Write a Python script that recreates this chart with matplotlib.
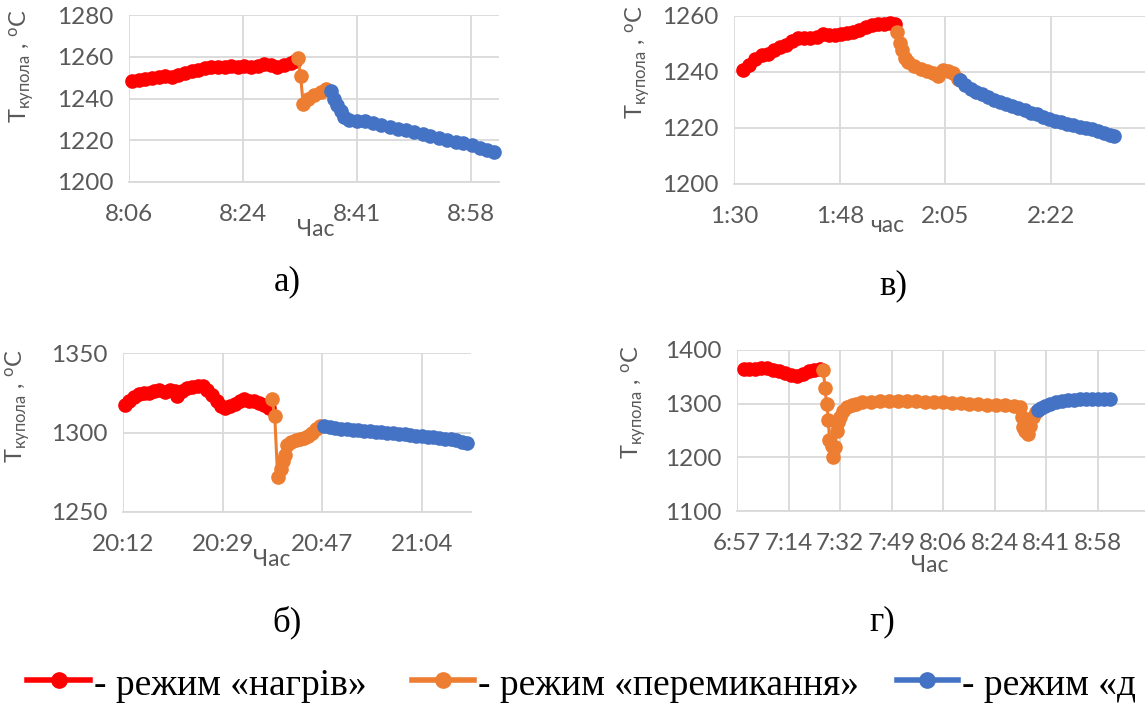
import matplotlib
matplotlib.use("Agg")
import matplotlib.pyplot as plt
from matplotlib.lines import Line2D

# ---------------- data (minutes from the first tick, °C) ----------------
# panel а)
a_red_t = [0.5, 1.5, 2.5, 3.5, 4.5, 5.5, 6.5, 7.5, 8.5, 9.5, 10.5, 11.5, 12.5, 13.5,
           14.5, 15.5, 16.5, 17.5, 18.5, 19.5, 20.5, 21.5, 22.5, 23.5, 24.5, 25.1]
a_red_v = [1248.3, 1248.8, 1249.5, 1250.0, 1250.3, 1250.6, 1250.4, 1251.2, 1252.3, 1253.0,
           1253.8, 1254.5, 1254.9, 1255.2, 1255.0, 1255.4, 1255.1, 1255.6, 1255.2, 1255.5,
           1256.4, 1255.9, 1255.0, 1256.2, 1257.0, 1257.8]
a_org_t = [25.6, 26.0, 26.4, 27.1, 28.1, 29.1, 29.9]
a_org_v = [1259.5, 1251.0, 1237.5, 1240.0, 1241.5, 1243.0, 1244.5]
a_blu_t = [30.6, 31.1, 31.6, 32.1, 32.6, 33.4, 34.5, 35.7, 37.0, 38.2, 39.5, 40.7, 42.0,
           43.2, 44.5, 45.7, 47.0, 48.2, 49.5, 50.7, 52.0, 53.2, 54.2, 55.3]
a_blu_v = [1243.5, 1240.0, 1237.0, 1234.0, 1231.0, 1229.5, 1229.3, 1229.0, 1228.2, 1227.5,
           1226.5, 1225.5, 1224.8, 1224.0, 1223.0, 1222.0, 1221.0, 1220.0, 1219.3, 1218.5,
           1217.5, 1216.5, 1215.5, 1214.5]
a_ticks = ["8:06", "8:24", "8:41", "8:58"]

# panel в)
v_red_t = [1.5, 2.5, 3.5, 4.5, 5.5, 6.5, 7.5, 8.5, 9.5, 10.5, 11.5, 12.5, 13.5, 14.5,
           15.5, 16.5, 17.5, 18.5, 19.5, 20.5, 21.5, 22.5, 23.5, 24.5, 25.5, 26.3]
v_red_v = [1240.8, 1242.5, 1244.5, 1246.0, 1246.5, 1248.0, 1248.8, 1249.5, 1251.0, 1252.0,
           1252.2, 1252.0, 1252.5, 1253.5, 1253.2, 1253.2, 1253.5, 1253.8, 1254.4, 1255.0,
           1256.0, 1256.7, 1257.0, 1257.2, 1257.5, 1257.0]
v_org_t = [26.7, 27.2, 27.5, 27.9, 28.5, 29.5, 30.5, 31.5, 32.5, 33.4, 34.2, 35.0, 35.8, 36.6]
v_org_v = [1254.4, 1250.5, 1248.0, 1245.0, 1243.5, 1242.0, 1241.2, 1240.3, 1239.5, 1238.5,
           1240.8, 1240.5, 1239.5, 1237.5]
v_blu_t = [36.9, 37.8, 38.7, 39.6, 40.5, 41.5, 42.5, 43.5, 44.5, 45.5, 46.5, 47.5, 48.5,
           49.5, 50.5, 51.5, 52.5, 53.5, 54.5, 55.5, 56.5, 57.5, 58.5, 59.5, 60.5, 61.5, 62.2]
v_blu_v = [1237.3, 1235.5, 1234.0, 1233.0, 1232.0, 1231.0, 1230.0, 1229.3, 1228.5, 1227.8,
           1227.0, 1226.3, 1225.5, 1225.0, 1224.0, 1223.2, 1222.5, 1222.0, 1221.5, 1221.0,
           1220.3, 1220.0, 1219.5, 1218.8, 1218.2, 1217.5, 1217.3]
v_ticks = ["1:30", "1:48", "2:05", "2:22"]

# panel б)
b_red_t = [0.4, 1.0, 1.85, 2.7, 3.6, 4.5, 5.4, 6.3, 7.2, 8.1, 9.0, 9.4, 10.3, 11.1, 12.0,
           13.0, 13.8, 14.6, 15.4, 16.3, 17.0, 17.7, 18.5, 19.4, 20.2, 21.0, 21.9, 22.7,
           23.6, 24.5, 25.3]
b_red_v = [1317.4, 1319.5, 1322.5, 1324.0, 1324.8, 1325.0, 1325.8, 1326.5, 1325.5, 1326.5,
           1325.8, 1323.0, 1326.0, 1328.0, 1328.5, 1329.5, 1329.0, 1327.0, 1323.5, 1320.0,
           1316.5, 1315.3, 1316.8, 1318.0, 1319.5, 1321.0, 1320.0, 1319.5, 1318.5, 1317.0,
           1315.5]
b_org_t = [25.8, 26.3, 26.8, 27.3, 27.7, 28.1, 28.5, 29.2, 29.9, 30.6, 31.3, 32.0, 32.7,
           33.4, 34.2]
b_org_v = [1321.3, 1310.5, 1272.1, 1277.0, 1282.0, 1286.0, 1292.0, 1294.0, 1295.5, 1296.0,
           1296.5, 1298.0, 1300.0, 1302.0, 1304.0]
b_blu_t = [34.8, 35.8, 36.8, 37.8, 38.8, 39.8, 40.8, 41.8, 42.8, 43.8, 44.8, 45.8, 46.8,
           47.8, 48.8, 49.8, 50.8, 51.8, 52.8, 53.8, 54.8, 55.8, 56.8, 57.8, 58.8, 59.6]
b_blu_v = [1303.8, 1303.2, 1302.7, 1302.3, 1302.0, 1301.6, 1301.5, 1301.0, 1300.8, 1300.4,
           1300.2, 1299.8, 1299.6, 1299.2, 1298.8, 1298.4, 1297.8, 1297.6, 1297.2, 1297.0,
           1296.6, 1296.2, 1295.6, 1295.0, 1294.2, 1293.3]
b_ticks = ["20:12", "20:29", "20:47", "21:04"]

# panel г)
g_red_t = [2.2, 4, 6, 8, 10, 12, 14, 16, 18, 20, 22, 24, 26, 28]
g_red_v = [1364.7, 1364.5, 1365.0, 1366.0, 1367.0, 1363.0, 1360.0, 1357.0, 1354.0, 1352.0,
           1356.0, 1360.0, 1363.0, 1365.0]
g_org_t = [29.0, 29.5, 30.1, 30.7, 31.0, 31.8, 32.3, 32.9, 33.4, 34.0, 34.6, 35.7, 37, 38.5,
           40, 42, 45, 48, 51, 54, 57, 60, 63, 66, 69, 72, 75, 78, 81, 84, 87, 90, 93, 94.8,
           95.5, 95.9, 96.7, 97.5, 98.3, 99.2, 100.3]
g_org_v = [1363.0, 1329.4, 1298.5, 1268.7, 1231.6, 1222.0, 1200.6, 1219.0, 1250.0, 1265.0,
           1275.0, 1287.0, 1294.0, 1298.0, 1300.0, 1302.5, 1303.5, 1304.5, 1305.0, 1304.6,
           1304.8, 1304.5, 1303.5, 1303.0, 1302.5, 1301.5, 1300.5, 1299.5, 1298.5, 1298.0,
           1297.5, 1296.8, 1295.5, 1294.7, 1275.0, 1256.3, 1250.0, 1244.0, 1258.0, 1275.0,
           1284.2]
g_blu_t = [100.9, 102, 103.5, 105, 107, 109, 111, 113, 115, 117, 119, 121, 123, 125]
g_blu_v = [1287.3, 1292.0, 1296.0, 1299.7, 1302.5, 1304.5, 1306.0, 1307.5, 1308.5, 1309.0,
           1309.2, 1309.3, 1309.3, 1309.0]
g_ticks = ["6:57", "7:14", "7:32", "7:49", "8:06", "8:24", "8:41", "8:58"]

legend_labels = ["- режим «нагрів»", "- режим «перемикання»", "- режим «д"]
panel_letters = ["а)", "в)", "б)", "г)"]
ylabel_text = r"T$_{\mathrm{купола}}$ , $^{\mathrm{o}}$C"

# ---------------- style ----------------
RED, ORANGE, BLUE = "#FF0000", "#ED7D31", "#4472C4"
GRID = "#D9D9D9"
TXT = "#595959"
SANS = ["Lato", "DejaVu Sans"]
SERIF = ["Liberation Serif", "DejaVu Serif"]
plt.rcParams["font.family"] = SANS
plt.rcParams["mathtext.fontset"] = "custom"
plt.rcParams["mathtext.rm"] = "Lato"
plt.rcParams["mathtext.it"] = "Lato:italic"
plt.rcParams["mathtext.bf"] = "Lato:bold"

W, H = 1145, 706
fig = plt.figure(figsize=(W / 100, H / 100), dpi=100)
fig.patch.set_facecolor("white")

STEP = 17.28  # minutes between major ticks (Excel 0.012 day)
TICK_FS = 17.5


def make_axes(l, t, r, b):
    return fig.add_axes([l / W, 1 - b / H, (r - l) / W, (b - t) / H])


def style(ax, ticks, xmax, ylim, ystep):
    ax.set_xlim(0, xmax)
    ax.set_ylim(*ylim)
    ax.set_xticks([k * STEP for k in range(len(ticks))])
    ax.set_xticklabels(ticks)
    ax.set_yticks(list(range(ylim[0], ylim[1] + 1, ystep)))
    ax.grid(True, color=GRID, lw=1.3)
    ax.set_axisbelow(True)
    for s in ("top", "right", "left"):
        ax.spines[s].set_visible(False)
    ax.spines["bottom"].set_color(GRID)
    ax.spines["bottom"].set_linewidth(1.3)
    ax.tick_params(length=0, labelsize=TICK_FS, colors=TXT)
    ax.tick_params(axis="x", pad=16)
    ax.tick_params(axis="y", pad=11)
    ax.set_facecolor("white")


def series(ax, t, v, c):
    ax.plot(t, v, color=c, lw=2.2, marker="o", ms=9.5, mec=c, mfc=c, clip_on=False, zorder=3)


# а)
ax = make_axes(129, 15, 499, 182)
style(ax, a_ticks, (499 - 129) / 114 * STEP, (1200, 1280), 20)
series(ax, a_red_t, a_red_v, RED)
series(ax, a_org_t, a_org_v, ORANGE)
series(ax, a_blu_t, a_blu_v, BLUE)

# в)
ax = make_axes(734, 16, 1150, 184)
style(ax, v_ticks, (1150 - 734) / 105.7 * STEP, (1200, 1260), 20)
series(ax, v_red_t, v_red_v, RED)
series(ax, v_org_t, v_org_v, ORANGE)
series(ax, v_blu_t, v_blu_v, BLUE)

# б)
ax = make_axes(123, 353, 471, 512)
style(ax, b_ticks, (471 - 123) / 99.7 * STEP, (1250, 1350), 50)
series(ax, b_red_t, b_red_v, RED)
series(ax, b_org_t, b_org_v, ORANGE)
series(ax, b_blu_t, b_blu_v, BLUE)

# г)
ax = make_axes(737, 350, 1146, 511)
style(ax, g_ticks, (1146 - 737) / 51.5 * STEP, (1100, 1400), 100)
series(ax, g_red_t, g_red_v, RED)
series(ax, g_org_t, g_org_v, ORANGE)
series(ax, g_blu_t, g_blu_v, BLUE)


def ftext(x, y, s, **kw):
    fig.text(x / W, 1 - y / H, s, **kw)


# y labels
for (x, y) in [(22, 66), (638, 62), (18, 406), (634, 402)]:
    ftext(x, y, ylabel_text, rotation=90, ha="center", va="center", fontsize=17, color=TXT)

# x labels "Час"
for (x, y, s) in [(316, 230, "Час"), (887, 225, "час"), (272, 559, "Час"), (930, 566, "Час")]:
    ftext(x, y, s, ha="center", va="center", fontsize=16.5, color=TXT)

# panel letters
for (x, y), s in zip([(287, 282), (893, 286), (287, 622), (882, 622)], panel_letters):
    ftext(x, y, s, ha="center", va="center", fontsize=25, color="black", family=SERIF)

# legend
leg = [(27, 90, RED, legend_labels[0]), (412, 474, ORANGE, legend_labels[1]),
       (897, 958, BLUE, legend_labels[2])]
for x0, x1, c, s in leg:
    yl = 1 - 680 / H
    fig.add_artist(Line2D([x0 / W, x1 / W], [yl, yl], transform=fig.transFigure,
                          color=c, lw=4))
    fig.add_artist(Line2D([(x0 + x1) / 2 / W], [yl], transform=fig.transFigure,
                          color=c, marker="o", ms=11, mec=c, mfc=c))
    ftext(x1 + 4, 686, s, ha="left", va="center", fontsize=27, color="black", family=SERIF)

fig.savefig("out.png", dpi=100)
